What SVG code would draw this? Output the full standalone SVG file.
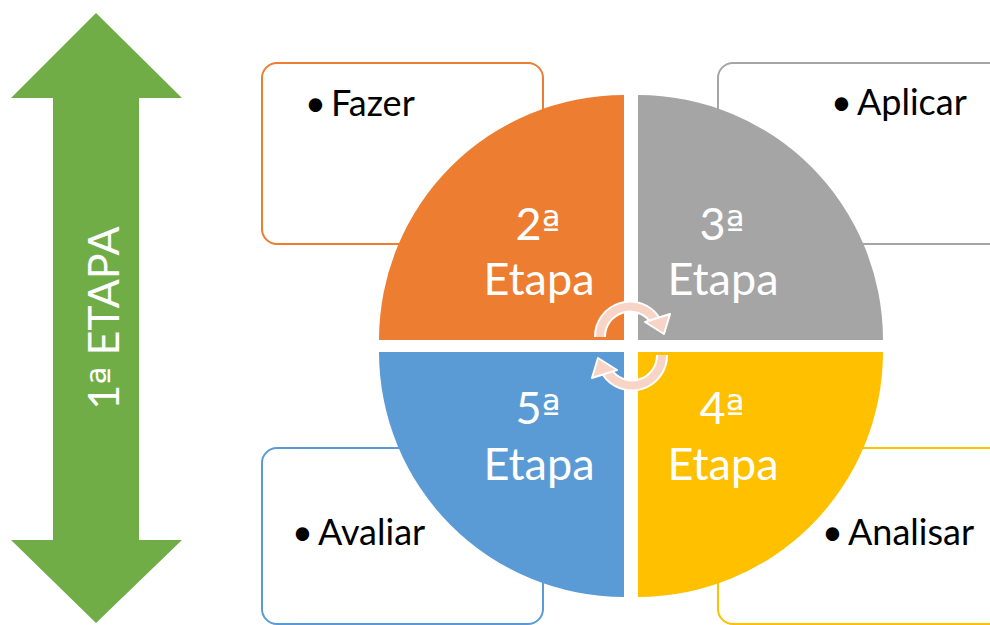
<svg xmlns="http://www.w3.org/2000/svg" width="990" height="625" viewBox="0 0 990 625">
<style>
  .box { fill: #ffffff; stroke-width: 2; }
  .lbl { font-family: Lato, "Open Sans", sans-serif; font-size: 36px; fill: #000000; }
  .stage { font-family: Lato, "Open Sans", sans-serif; font-size: 45px; fill: #ffffff; text-anchor: middle; }
  .side { font-family: Lato, "Open Sans", sans-serif; font-size: 43px; fill: #ffffff; text-anchor: middle; }
  .ord { font-family: "DejaVu Sans", sans-serif; font-size: 0.9em; }
  .arcw { fill: none; stroke: #ffffff; stroke-width: 12; }
  .arcp { fill: none; stroke: #F7D4C6; stroke-width: 8; }
  .head { fill: #F7D4C6; stroke: #ffffff; stroke-width: 2; stroke-linejoin: round; }
</style>
<rect width="990" height="625" fill="#ffffff"/>

<g id="etapa1">
  <polygon points="96,13 182,98 139,98 139,540 182,540 96,623 11,540 53,540 53,98 11,98" fill="#70AD47"/>
  <text class="side" transform="translate(119,318) rotate(-90)">1<tspan class="ord">ª</tspan> ETAPA</text>
</g>

<g id="box-fazer">
  <rect class="box" x="262" y="63" width="281" height="181" rx="15" stroke="#ED7D31"/>
  <text class="lbl" y="116"><tspan x="305">•</tspan><tspan x="331">Fazer</tspan></text>
</g>
<g id="box-aplicar">
  <rect class="box" x="718" y="63" width="290" height="181" rx="15" stroke="#A5A5A5"/>
  <text class="lbl" y="115"><tspan x="831">•</tspan><tspan x="857">Aplicar</tspan></text>
</g>
<g id="box-avaliar">
  <rect class="box" x="262" y="448" width="281" height="176" rx="15" stroke="#5B9BD5"/>
  <text class="lbl" y="545"><tspan x="292">•</tspan><tspan x="318">Avaliar</tspan></text>
</g>
<g id="box-analisar">
  <rect class="box" x="718" y="448" width="290" height="176" rx="15" stroke="#FFC000"/>
  <text class="lbl" y="545"><tspan x="822">•</tspan><tspan x="848">Analisar</tspan></text>
</g>

<g id="q2">
  <path d="M624,340 L379,340 A245,245 0 0 1 624,95 Z" fill="#ED7D31"/>
  <text class="stage" x="538" y="240">2<tspan class="ord">ª</tspan></text>
  <text class="stage" x="539" y="295">Etapa</text>
</g>
<g id="q3">
  <path d="M638,340 L638,95 A245,245 0 0 1 883,340 Z" fill="#A5A5A5"/>
  <text class="stage" x="722" y="240">3<tspan class="ord">ª</tspan></text>
  <text class="stage" x="723" y="295">Etapa</text>
</g>
<g id="q5">
  <path d="M624,352 L624,597 A245,245 0 0 1 379,352 Z" fill="#5B9BD5"/>
  <text class="stage" x="538" y="424">5<tspan class="ord">ª</tspan></text>
  <text class="stage" x="539" y="480">Etapa</text>
</g>
<g id="q4">
  <path d="M638,352 L883,352 A245,245 0 0 1 638,597 Z" fill="#FFC000"/>
  <text class="stage" x="722" y="424">4<tspan class="ord">ª</tspan></text>
  <text class="stage" x="723" y="480">Etapa</text>
</g>

<g id="connectors">
  <g id="cycle-top">
    <path class="arcw" d="M600,337 A30,30 0 0 1 655,320"/>
    <path class="arcp" d="M600,337 A30,30 0 0 1 655,320"/>
    <polygon class="head" points="645,322 670,314 664,334"/>
  </g>
  <g id="cycle-bottom" transform="rotate(180 631 346)">
    <path class="arcw" d="M600,337 A30,30 0 0 1 655,320"/>
    <path class="arcp" d="M600,337 A30,30 0 0 1 655,320"/>
    <polygon class="head" points="645,322 670,314 664,334"/>
  </g>
</g>
</svg>
